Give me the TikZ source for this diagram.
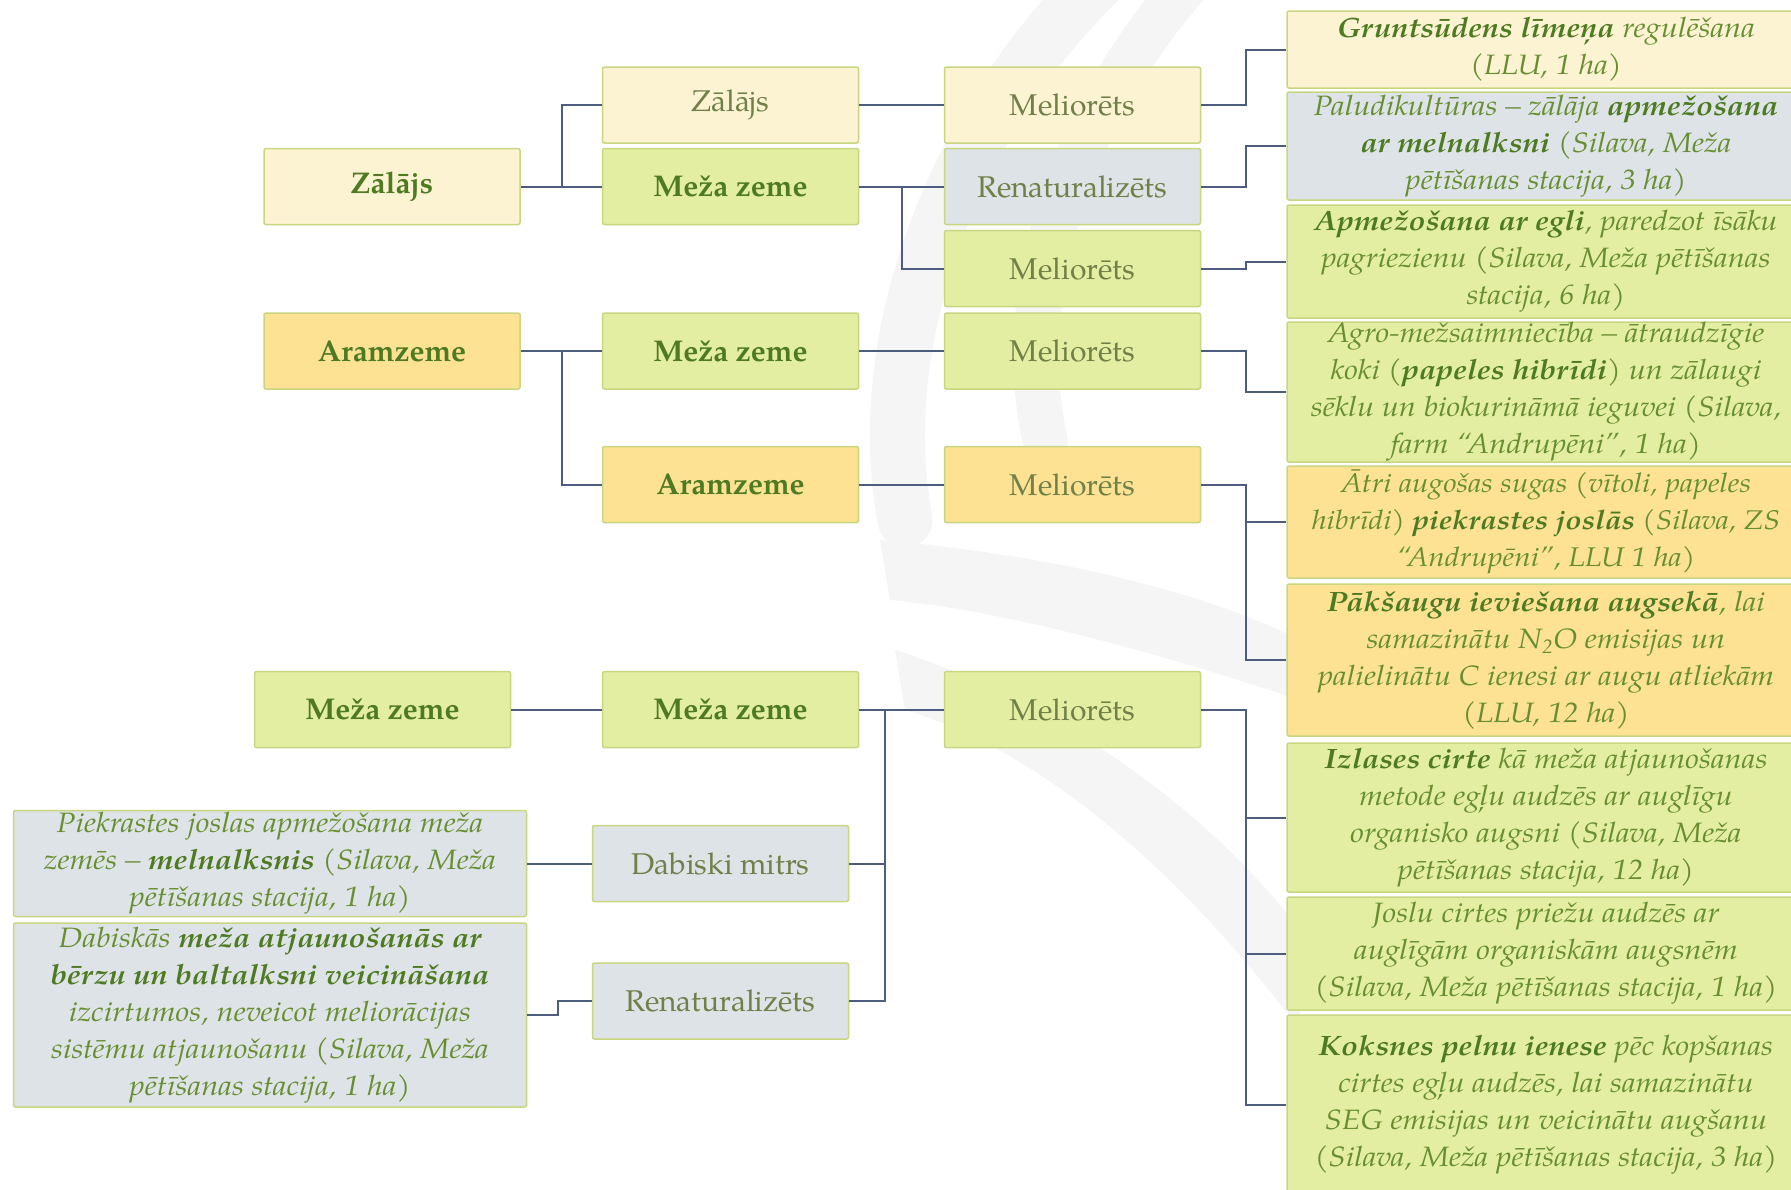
\documentclass[tikz,border=0pt]{standalone}
\usepackage{fontspec}
\setmainfont{TeX Gyre Pagella}
\newfontfamily\descfont{TeX Gyre Pagella}[FakeStretch=1.10]
\definecolor{linec}{RGB}{78,92,128}
\definecolor{fyel}{RGB}{252,243,210}
\definecolor{fgrn}{RGB}{228,238,162}
\definecolor{forg}{RGB}{252,226,146}
\definecolor{fgry}{RGB}{222,227,231}
\definecolor{bord}{RGB}{200,214,128}
\definecolor{tbold}{RGB}{78,122,34}
\definecolor{treg}{RGB}{112,128,72}
\definecolor{tital}{RGB}{104,142,50}
\definecolor{wmc}{RGB}{245,245,245}
\newcommand{\hb}[1]{{\bfseries\color{tbold}#1}}
\tikzset{
  basebox/.style={draw=bord, line width=1.5pt, rounded corners=2pt, inner sep=0pt, align=center},
  lab/.style={basebox, minimum width=256pt, minimum height=76pt, font=\fontsize{30}{36}\selectfont, text=treg},
  blab/.style={lab, font=\fontsize{30}{36}\selectfont\bfseries, text=tbold},
  desc/.style={basebox, minimum width=518pt, font=\descfont\fontsize{28}{37}\selectfont\itshape, text=tital},
  ldesc/.style={basebox, minimum width=513pt, font=\descfont\fontsize{28}{37}\selectfont\itshape, text=tital},
  conn/.style={draw=linec, line width=2pt},
  wmline/.style={draw=wmc, line cap=round}
}
\begin{document}
\begin{tikzpicture}[x=1pt,y=-1pt]
\useasboundingbox (0,0) rectangle (1791,1189);
\fill[white] (0,0) rectangle (1791,1189);
% watermark
\draw[wmline, line width=55pt] (1110,-30) .. controls (960,110) and (870,330) .. (905,520);
\draw[wmline, line width=45pt] (1200,-30) .. controls (1080,100) and (1010,280) .. (1045,440);
\fill[wmc] (880,540) .. controls (1050,555) and (1200,590) .. (1300,640) -- (1300,700) .. controls (1150,650) and (1000,610) .. (890,600) -- cycle;
\fill[wmc] (895,650) .. controls (1050,700) and (1200,800) .. (1300,930) -- (1300,1030) .. controls (1180,870) and (1040,750) .. (905,710) -- cycle;

% column 1
\node[blab, fill=fyel] (z1) at (392,186.5) {Zālājs};
\node[blab, fill=forg] (a1) at (392,351) {Aramzeme};
\node[blab, fill=fgrn] (mz1) at (382.5,709.5) {Meža zeme};
% column 2
\node[lab, fill=fyel] (z2) at (730.5,105) {Zālājs};
\node[blab, fill=fgrn] (m2a) at (730.5,186.5) {Meža zeme};
\node[blab, fill=fgrn] (m2b) at (730.5,351) {Meža zeme};
\node[blab, fill=forg] (a2) at (730.5,484.5) {Aramzeme};
\node[blab, fill=fgrn] (m2c) at (730.5,709.5) {Meža zeme};
\node[lab, fill=fgry] (dab) at (720.5,863.5) {Dabiski mitrs};
\node[lab, fill=fgry] (ren2) at (720.5,1001) {Renaturalizēts};
% column 3
\node[lab, fill=fyel] (mel1) at (1072.5,105) {Meliorēts};
\node[lab, fill=fgry] (ren1) at (1072.5,186.5) {Renaturalizēts};
\node[lab, fill=fgrn] (mel2) at (1072.5,268.5) {Meliorēts};
\node[lab, fill=fgrn] (mel3) at (1072.5,351) {Meliorēts};
\node[lab, fill=forg] (mel4) at (1072.5,484.5) {Meliorēts};
\node[lab, fill=fgrn] (mel5) at (1072.5,709.5) {Meliorēts};
% right column
\node[desc, fill=fyel, minimum height=77pt] (r1) at (1546,49.5) {\hb{Gruntsūdens līmeņa} regulēšana\\(LLU, 1 ha)};
\node[desc, fill=fgry, minimum height=108pt] (r2) at (1546,146) {Paludikultūras – zālāja \hb{apmežošana}\\\hb{ar melnalksni} (Silava, Meža\\pētīšanas stacija, 3 ha)};
\node[desc, fill=fgrn, minimum height=113pt] (r3) at (1546,261.5) {\hb{Apmežošana ar egli}, paredzot īsāku\\pagriezienu (Silava, Meža pētīšanas\\stacija, 6 ha)};
\node[desc, fill=fgrn, minimum height=140pt] (r4) at (1546,392) {Agro-mežsaimniecība – ātraudzīgie\\koki (\hb{papeles hibrīdi}) un zālaugi\\sēklu un biokurināmā ieguvei (Silava,\\farm “Andrupēni”, 1 ha)};
\node[desc, fill=forg, minimum height=112pt, font=\descfont\fontsize{27}{37}\selectfont\itshape] (r5) at (1546,522) {Ātri augošas sugas (vītoli, papeles\\hibrīdi) \hb{piekrastes joslās} (Silava, ZS\\“Andrupēni”, LLU 1 ha)};
\node[desc, fill=forg, minimum height=152pt] (r6) at (1546,660) {\hb{Pākšaugu ieviešana augsekā}, lai\\samazinātu N\textsubscript{2}O emisijas un\\palielinātu C ienesi ar augu atliekām\\(LLU, 12 ha)};
\node[desc, fill=fgrn, minimum height=149pt] (r7) at (1546,817.5) {\hb{Izlases cirte} kā meža atjaunošanas\\metode egļu audzēs ar auglīgu\\organisko augsni (Silava, Meža\\pētīšanas stacija, 12 ha)};
\node[desc, fill=fgrn, minimum height=113pt] (r8) at (1546,953.5) {Joslu cirtes priežu audzēs ar\\auglīgām organiskām augsnēm\\(Silava, Meža pētīšanas stacija, 1 ha)};
\node[desc, fill=fgrn, minimum height=180pt] (r9) at (1546,1105) {\hb{Koksnes pelnu ienese} pēc kopšanas\\cirtes egļu audzēs, lai samazinātu\\SEG emisijas un veicinātu augšanu\\(Silava, Meža pētīšanas stacija, 3 ha)};
% left description boxes
\node[ldesc, fill=fgry, minimum height=106pt] (piek) at (270,863.5) {Piekrastes joslas apmežošana meža\\zemēs – \hb{melnalksnis} (Silava, Meža\\pētīšanas stacija, 1 ha)};
\node[ldesc, fill=fgry, minimum height=184pt] (dabk) at (270,1015) {Dabiskās \hb{meža atjaunošanās ar}\\\hb{bērzu un baltalksni veicināšana}\\izcirtumos, neveicot meliorācijas\\sistēmu atjaunošanu (Silava, Meža\\pētīšanas stacija, 1 ha)};

% connectors
\draw[conn] (z1.east) -- (m2a.west);
\draw[conn] (z1.east) -- ++(41,0) |- (z2.west);
\draw[conn] (z2.east) -- (mel1.west);
\draw[conn] (m2a.east) -- (ren1.west);
\draw[conn] (m2a.east) -- ++(43,0) |- (mel2.west);
\draw[conn] (a1.east) -- (m2b.west);
\draw[conn] (a1.east) -- ++(41,0) |- (a2.west);
\draw[conn] (m2b.east) -- (mel3.west);
\draw[conn] (a2.east) -- (mel4.west);
\draw[conn] (mz1.east) -- (m2c.west);
\draw[conn] (m2c.east) -- (mel5.west);
\draw[conn] (m2c.east) -- ++(26,0) |- (dab.east);
\draw[conn] (m2c.east) -- ++(26,0) |- (ren2.east);
\draw[conn] (dab.west) -- (piek.east);
\draw[conn] (ren2.west) -- ++(-34,0) |- (dabk.east);
\draw[conn] (mel1.east) -- ++(45,0) |- (r1.west);
\draw[conn] (ren1.east) -- ++(45,0) |- (r2.west);
\draw[conn] (mel2.east) -- ++(45,0) |- (r3.west);
\draw[conn] (mel3.east) -- ++(45,0) |- (r4.west);
\draw[conn] (mel4.east) -- ++(45,0) |- (r5.west);
\draw[conn] (mel4.east) -- ++(45,0) |- (r6.west);
\draw[conn] (mel5.east) -- ++(45,0) |- (r7.west);
\draw[conn] (mel5.east) -- ++(45,0) |- (r8.west);
\draw[conn] (mel5.east) -- ++(45,0) |- (r9.west);
\end{tikzpicture}
\end{document}
